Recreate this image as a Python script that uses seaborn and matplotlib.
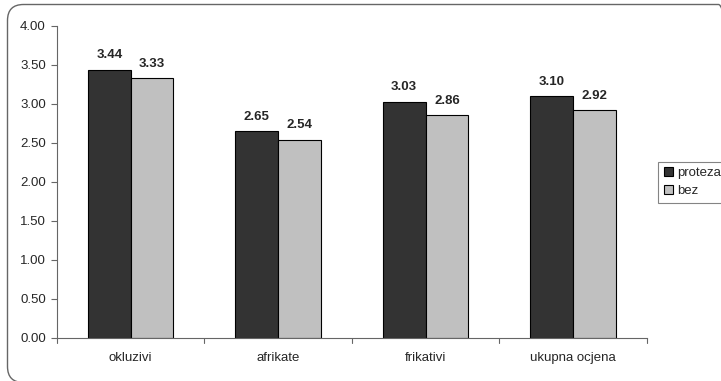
import matplotlib
matplotlib.use("Agg")
import matplotlib.pyplot as plt
import seaborn as sns
import pandas as pd
from matplotlib.patches import FancyBboxPatch
from matplotlib.transforms import IdentityTransform

categories = ["okluzivi", "afrikate", "frikativi", "ukupna ocjena"]
series_names = ["proteza", "bez"]
proteza = [3.44, 2.65, 3.03, 3.10]
bez = [3.33, 2.54, 2.86, 2.92]
yticks = [0.0, 0.5, 1.0, 1.5, 2.0, 2.5, 3.0, 3.5, 4.0]

sns.set_theme(style="white")
plt.rcParams["font.family"] = ["Liberation Sans", "DejaVu Sans"]

df = pd.DataFrame({
    "kategorija": categories * 2,
    "serija": [series_names[0]] * 4 + [series_names[1]] * 4,
    "vrijednost": proteza + bez,
})

fig = plt.figure(figsize=(7.21, 3.81), dpi=100)
ax = fig.add_axes([0.079, 0.113, 0.818, 0.819])

# rounded outer frame (in pixels), running off the right and bottom edges
frame = FancyBboxPatch((7.5, -1.5), 727, 378,
                       boxstyle="round,pad=0,rounding_size=16",
                       transform=IdentityTransform(), fill=False,
                       edgecolor="#666666", linewidth=1.0)
fig.patches.append(frame)

sns.barplot(data=df, x="kategorija", y="vrijednost", hue="serija",
            palette=["#333333", "#c0c0c0"], width=0.58, ax=ax,
            edgecolor="black", linewidth=0.8, saturation=1)

ax.set_ylim(0, 4.0)
ax.set_xlim(-0.5, 3.5)
ax.set_yticks(yticks)
ax.set_yticklabels([f"{v:.2f}" for v in yticks], fontsize=9.5)
ax.set_xlabel("")
ax.set_ylabel("")
ax.tick_params(axis="x", length=0, labelsize=9.5, pad=10)
ax.tick_params(axis="y", length=4, width=0.8, color="#666666", direction="out", left=True, pad=4)

# category separators below the axis
for b in [-0.5, 0.5, 1.5, 2.5, 3.5]:
    ax.plot([b, b], [0, -0.07], color="#666666", lw=0.8, clip_on=False)

for side in ["top", "right"]:
    ax.spines[side].set_visible(False)
for side in ["left", "bottom"]:
    ax.spines[side].set_color("#666666")
    ax.spines[side].set_linewidth(0.8)

for container in ax.containers:
    ax.bar_label(container, labels=[f"{v:.2f}" for v in container.datavalues],
                 padding=6, fontsize=9.5, fontweight="bold")

leg = ax.legend(loc="upper left", bbox_to_anchor=(0.913, 0.576),
                bbox_transform=fig.transFigure, frameon=True, fontsize=9.5,
                handlelength=0.7, handleheight=0.7, handletextpad=0.3,
                borderpad=0.4, labelspacing=0.45, fancybox=False, borderaxespad=0)
leg.get_frame().set_edgecolor("#666666")
leg.get_frame().set_linewidth(0.8)

fig.savefig("out.png", dpi=100)
